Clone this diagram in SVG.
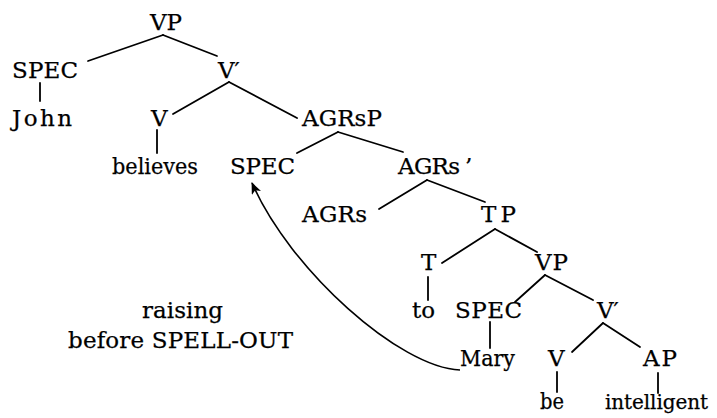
<svg xmlns="http://www.w3.org/2000/svg" width="717" height="418" viewBox="0 0 717 418">
<style>
  text { font-family: "DejaVu Serif", "Liberation Serif", serif; font-size: 23px; fill: #000; stroke: #000; stroke-width: 0.25; }
  text.sm { font-size: 20px; }
  .e { stroke: #000; stroke-width: 1.8; fill: none; stroke-linecap: round; }
  .arc { stroke: #000; stroke-width: 1.6; fill: none; }
</style>
<defs>
  <marker id="ah" viewBox="0 0 12 10" refX="11" refY="5" markerWidth="12" markerHeight="10" markerUnits="userSpaceOnUse" orient="auto">
    <path d="M0,0 L12,5 L0,10 L3,5 Z" fill="#000"/>
  </marker>
</defs>
<rect width="717" height="418" fill="#fff"/>
<g id="connectors">
  <line class="e" x1="163" y1="35" x2="88" y2="61"/>
  <line class="e" x1="163" y1="35" x2="217" y2="56"/>
  <line class="e" x1="40" y1="83" x2="40" y2="101"/>
  <line class="e" x1="229" y1="82" x2="173" y2="114"/>
  <line class="e" x1="229" y1="82" x2="297" y2="118"/>
  <line class="e" x1="157" y1="130" x2="157" y2="153"/>
  <line class="e" x1="338" y1="132" x2="297" y2="153"/>
  <line class="e" x1="338" y1="132" x2="403" y2="152"/>
  <line class="e" x1="427" y1="180" x2="379" y2="209"/>
  <line class="e" x1="427" y1="180" x2="485" y2="202"/>
  <line class="e" x1="495" y1="229" x2="442" y2="263"/>
  <line class="e" x1="495" y1="229" x2="537" y2="252"/>
  <line class="e" x1="428" y1="277" x2="428" y2="300"/>
  <line class="e" x1="545" y1="275" x2="515" y2="302"/>
  <line class="e" x1="545" y1="275" x2="593" y2="300"/>
  <line class="e" x1="490" y1="322" x2="490" y2="348"/>
  <line class="e" x1="603" y1="323" x2="572" y2="352"/>
  <line class="e" x1="603" y1="323" x2="640" y2="347"/>
  <line class="e" x1="557" y1="372" x2="557" y2="392"/>
  <line class="e" x1="658" y1="373" x2="658" y2="393"/>
  <path class="arc" d="M460,370 C400,368 290,270 252,183" marker-end="url(#ah)"/>
</g>
<g id="n-VP"><text x="150" y="30" textLength="32">VP</text></g>
<g id="n-SPEC1"><text x="12" y="78" textLength="66">SPEC</text></g>
<g id="n-Vbar1"><text x="218" y="78">V′</text></g>
<g id="n-John"><text x="12" y="126" textLength="60">John</text></g>
<g id="n-V1"><text x="151" y="126">V</text></g>
<g id="n-AGRsP"><text x="302" y="126" textLength="80">AGRsP</text></g>
<g id="n-believes"><text x="112" y="174" textLength="86" lengthAdjust="spacingAndGlyphs">believes</text></g>
<g id="n-SPEC2"><text x="230" y="174" textLength="65">SPEC</text></g>
<g id="n-AGRsbar"><text x="398" y="174"><tspan textLength="62">AGRs</tspan><tspan x="465">’</tspan></text></g>
<g id="n-AGRs"><text x="302" y="222" textLength="65">AGRs</text></g>
<g id="n-TP"><text x="481" y="222" textLength="35">TP</text></g>
<g id="n-T"><text x="421" y="270">T</text></g>
<g id="n-VP2"><text x="535" y="270" textLength="33">VP</text></g>
<g id="n-to"><text x="412" y="318" textLength="23">to</text></g>
<g id="n-SPEC3"><text x="455" y="318" textLength="67">SPEC</text></g>
<g id="n-Vbar2"><text x="597" y="318">V′</text></g>
<g id="n-Mary"><text x="460" y="366" textLength="55" lengthAdjust="spacingAndGlyphs">Mary</text></g>
<g id="n-V2"><text x="548" y="366">V</text></g>
<g id="n-AP"><text x="643" y="366" textLength="34">AP</text></g>
<g id="n-be"><text x="540" y="409" textLength="24" lengthAdjust="spacingAndGlyphs">be</text></g>
<g id="n-intelligent"><text class="sm" x="605" y="409" textLength="103">intelligent</text></g>
<g id="label-raising">
  <text x="142" y="318" textLength="81">raising</text>
  <text x="68" y="348" textLength="225">before SPELL-OUT</text>
</g>
</svg>
